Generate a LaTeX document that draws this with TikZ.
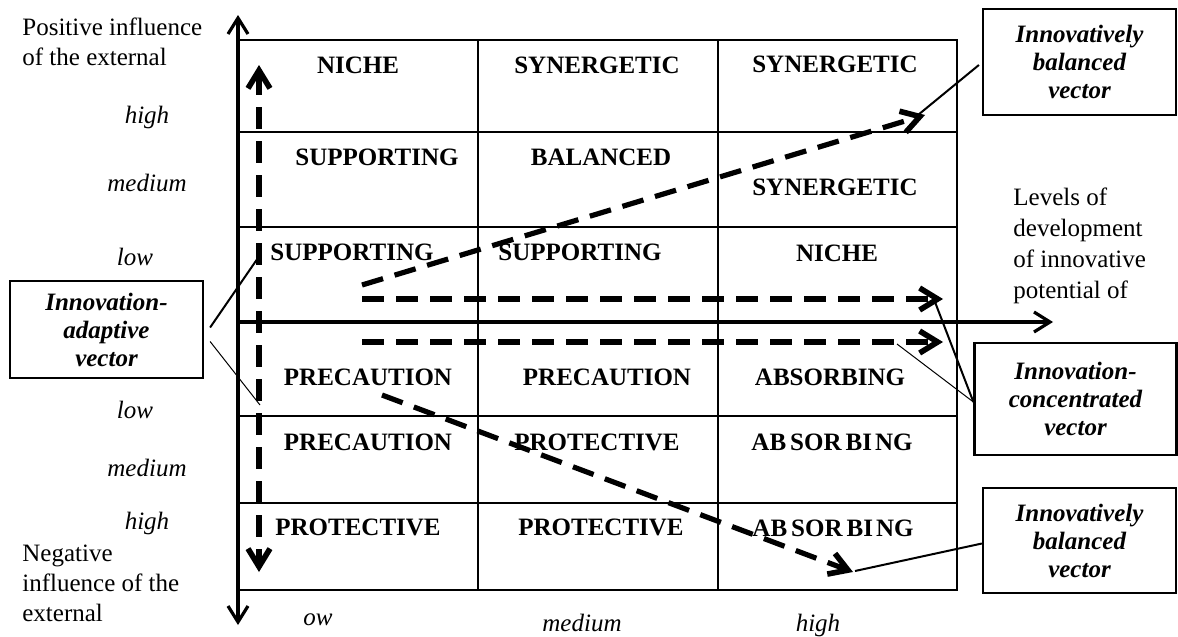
\documentclass[tikz,border=0pt]{standalone}
\usepackage{fontspec}
\setmainfont{Liberation Serif}
\usetikzlibrary{arrows.meta}
\begin{document}
\begin{tikzpicture}[x=0.5pt,y=-0.5pt,
 cell/.style={font=\fontsize{12.5}{15}\selectfont\bfseries, inner sep=0pt},
 lvl/.style={font=\fontsize{12.5}{15}\selectfont\itshape, inner sep=0pt},
 txt/.style={font=\fontsize{12.5}{15}\selectfont, inner sep=0pt, align=left},
 vbox/.style={draw, line width=1.1pt, font=\fontsize{12.5}{14}\selectfont\bfseries\itshape, align=center, inner sep=0pt},
 gridline/.style={line width=0.65pt},
 axis/.style={line width=1.6pt, -{Straight Barb[length=8pt,width=10pt]}},
 vec/.style={line width=2.6pt, dash pattern=on 11pt off 6pt, -{Straight Barb[length=9pt,width=11pt,line width=2.8pt]}},
 lead/.style={line width=1pt},
 thinlead/.style={line width=0.5pt}]
\useasboundingbox (0,0) rectangle (1178,637);

% grid
\draw[gridline] (239,40) -- (957,40) -- (957,590) -- (239,590);
\foreach \yy in {132,227,416,503} \draw[gridline] (239,\yy) -- (957,\yy);
\foreach \xx in {478,718} \draw[gridline] (\xx,40) -- (\xx,590);

% axes
\coordinate (O) at (238,322);
\coordinate (ytop) at (238,15);
\coordinate (ybot) at (238,625);
\coordinate (xend) at (1053,322);
\draw[axis] (O) -- (ytop);
\draw[axis] (O) -- (ybot);
\draw[axis] (O) -- (xend);

% cell labels
\node[cell] (c11) at (358,65) {NICHE};
\node[cell] (c12) at (597,65) {SYNERGETIC};
\node[cell] (c13) at (835,64) {SYNERGETIC};
\node[cell] (c21) at (377,157) {SUPPORTING};
\node[cell] (c22) at (601,157) {BALANCED};
\node[cell] (c23) at (835,187) {SYNERGETIC};
\node[cell] (c31) at (352,252) {SUPPORTING};
\node[cell] (c32) at (580,252) {SUPPORTING};
\node[cell] (c33) at (837,253) {NICHE};
\node[cell] (d11) at (368,377) {PRECAUTION};
\node[cell] (d12) at (607,377) {PRECAUTION};
\node[cell] (d13) at (830,377) {ABSORBING};
\node[cell] (d21) at (368,442) {PRECAUTION};
\node[cell] (d22) at (597,442) {PROTECTIVE};
\node[cell] (d23) at (832,442) {AB\kern2pt SOR\kern2pt BI\kern1.5pt NG};
\node[cell] (d31) at (358,527) {PROTECTIVE};
\node[cell] (d32) at (601,527) {PROTECTIVE};
\node[cell] (d33) at (833,528) {AB\kern2pt SOR\kern2pt BI\kern1.5pt NG};

% level labels
\node[lvl] (lh1) at (147,117) {high};
\node[lvl] (lm1) at (147,183) {medium};
\node[lvl] (ll1) at (135,257) {low};
\node[lvl] (ll2) at (135,410) {low};
\node[lvl] (lm2) at (147,468) {medium};
\node[lvl] (lh2) at (147,523) {high};
\node[lvl] (bl) at (318,620) {ow};
\node[lvl] (bm) at (582,623) {medium};
\node[lvl] (bh) at (818,625) {high};

% axis texts
\node[txt, anchor=west] (pos) at (22,42) {Positive influence\\of the external};
\node[txt, anchor=west] (neg) at (22,583) {Negative\\influence of the\\external};
\node[txt, anchor=west, font=\fontsize{12.5}{15.5}\selectfont] (lev) at (1013,246) {Levels of\\development\\of innovative\\potential of};

% vectors
\coordinate (vu) at (259,65);
\coordinate (vd) at (259,572);
\draw[vec, {Straight Barb[length=9pt,width=11pt,line width=2.8pt]}-{Straight Barb[length=9pt,width=11pt,line width=2.8pt]}] (vu) -- (vd);
\coordinate (a1s) at (362,285);
\coordinate (a1e) at (925,115);
\draw[vec] (a1s) -- (a1e);
\coordinate (a2s) at (362,299);
\coordinate (a2e) at (943,299);
\draw[vec] (a2s) -- (a2e);
\coordinate (a3s) at (362,342);
\coordinate (a3e) at (943,342);
\draw[vec] (a3s) -- (a3e);
\coordinate (a4s) at (382,395);
\coordinate (a4e) at (853,572);
\draw[vec] (a4s) -- (a4e);

% boxes
\node[vbox, minimum width=96.5pt, minimum height=53pt] (tr) at (1079.5,62) {Innovatively\\balanced\\vector};
\node[vbox, minimum width=101pt, minimum height=56pt] (mc) at (1075.5,399) {Innovation-\\concentrated\\vector};
\node[vbox, minimum width=96.5pt, minimum height=52.5pt] (bb) at (1079.5,540.5) {Innovatively\\balanced\\vector};
\node[vbox, minimum width=96.5pt, minimum height=48.5pt] (lb) at (106.5,329.5) {Innovation-\\adaptive\\vector};

% leaders
\coordinate (t1) at (918,115);
\coordinate (t2) at (935,302);
\coordinate (t3) at (897,344);
\coordinate (t4) at (855,571);
\coordinate (t5) at (260,255);
\coordinate (t6) at (260,405);
\draw[lead] ([xshift=-1.5pt,yshift=-1.5pt]tr.west) -- (t1);
\draw[lead] ([yshift=-1.5pt]mc.west) -- (t2);
\draw[thinlead] ([yshift=-1.5pt]mc.west) -- (t3);
\draw[lead] ([yshift=-1.5pt]bb.west) -- (t4);
\draw[lead] ([xshift=3pt,yshift=1pt]lb.east) -- (t5);
\draw[thinlead] ([xshift=3pt,yshift=-6pt]lb.east) -- (t6);
\end{tikzpicture}
\end{document}
